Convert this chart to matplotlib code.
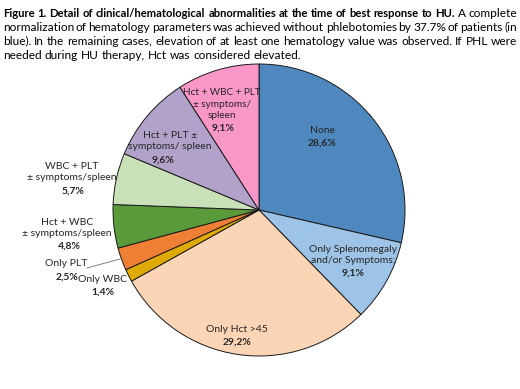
import matplotlib
matplotlib.use("Agg")
import matplotlib.pyplot as plt

plt.rcParams['font.family'] = ['Lato', 'DejaVu Sans']

categories = ["None", "Only Splenomegaly\nand/or Symptoms;", "Only Hct >45", "Only WBC",
              "Only PLT", "Hct + WBC\n± symptoms/spleen", "WBC + PLT\n± symptoms/spleen",
              "Hct + PLT ±\nsymptoms/ spleen", "Hct + WBC + PLT\n± symptoms/\nspleen"]
values = [28.6, 9.1, 29.2, 1.4, 2.5, 4.8, 5.7, 9.6, 9.1]
pct_labels = ["28,6%", "9,1%", "29,2%", "1,4%", "2,5%", "4,8%", "5,7%", "9,6%", "9,1%"]
colors = ["#4F88BF", "#9DC3E6", "#FBD5B5", "#E0AA05", "#EE7F35", "#5B9A3B",
          "#C8E1B8", "#B2A1C8", "#FA97C9"]

W, H = 520, 389
fig = plt.figure(figsize=(W / 100, H / 100), dpi=100)
ax = fig.add_axes([0, 0, 1, 1])

cx, cy, r = 259, H - 210, 146
ax.pie(values, colors=colors, startangle=90, counterclock=False, center=(cx, cy), radius=r,
       wedgeprops=dict(edgecolor='#1a1a1a', linewidth=0.7), frame=True)
ax.set_xlim(0, W)
ax.set_ylim(0, H)
ax.set_aspect('equal')
ax.axis('off')

# label positions in image pixel coordinates (center of name, center of pct)
label_pos = [
    (322, 130, 322, 143),
    (353, 255, 353, 273),
    (237, 329, 237, 342),
    (103, 279, 103, 292),
    (66, 264, 67, 277),
    (67, 228, 69, 246),
    (72, 172, 73, 191),
    (170, 141, 163, 160),
    (222, 104, 223, 128),
]
lab_fs = 7.5
tc = '#262626'
for i, (name, pct, (nx, ny, px, py)) in enumerate(zip(categories, pct_labels, label_pos)):
    fs = 7.2 if i == 8 else lab_fs
    ax.text(nx, H - ny, name, ha='center', va='center', fontsize=fs, color=tc,
            linespacing=1.3 if i == 8 else 1.25)
    ax.text(px, H - py, pct, ha='center', va='center', fontsize=lab_fs, color=tc,
            fontweight='bold')

# leader line for Only PLT
ax.plot([87, 120], [H - 268, H - 259], color='#808080', lw=0.7)

# Justified caption
bold_part = "Figure 1. Detail of clinical/hematological abnormalities at the time of best response to HU."
lines = [
    [(w, 'bold') for w in bold_part.split()] + [(w, 'normal') for w in "A complete".split()],
    [(w, 'normal') for w in "normalization of hematology parameters was achieved without phlebotomies by 37.7% of patients (in".split()],
    [(w, 'normal') for w in "blue). In the remaining cases, elevation of at least one hematology value was observed. If PHL were".split()],
    [(w, 'normal') for w in "needed during HU therapy, Hct was considered elevated.".split()],
]
line_y = [13, 27, 41, 55]
x_left, x_right = 3, 517
cap_fs = 8.6
bold_fs = 8.1
renderer = fig.canvas.get_renderer()
sp = ax.text(0, 0, "n n", fontsize=cap_fs)
sa = ax.text(0, 0, "nn", fontsize=cap_fs)
space_w = sp.get_window_extent(renderer=renderer).width - sa.get_window_extent(renderer=renderer).width
sp.remove(); sa.remove()
for li, (words, y) in enumerate(zip(lines, line_y)):
    texts = []
    widths = []
    for w, wt in words:
        fs = bold_fs if wt == 'bold' else cap_fs
        t = ax.text(0, H - y, w, ha='left', va='center', fontsize=fs, fontweight=wt,
                    color='black')
        bb = t.get_window_extent(renderer=renderer)
        texts.append(t)
        widths.append(bb.width)
    total = sum(widths)
    if li < len(lines) - 1:
        gap = (x_right - x_left - total) / (len(words) - 1)
    else:
        gap = space_w
    x = x_left
    for t, wdt in zip(texts, widths):
        t.set_x(x)
        x += wdt + gap

fig.savefig("out.png", dpi=100)
